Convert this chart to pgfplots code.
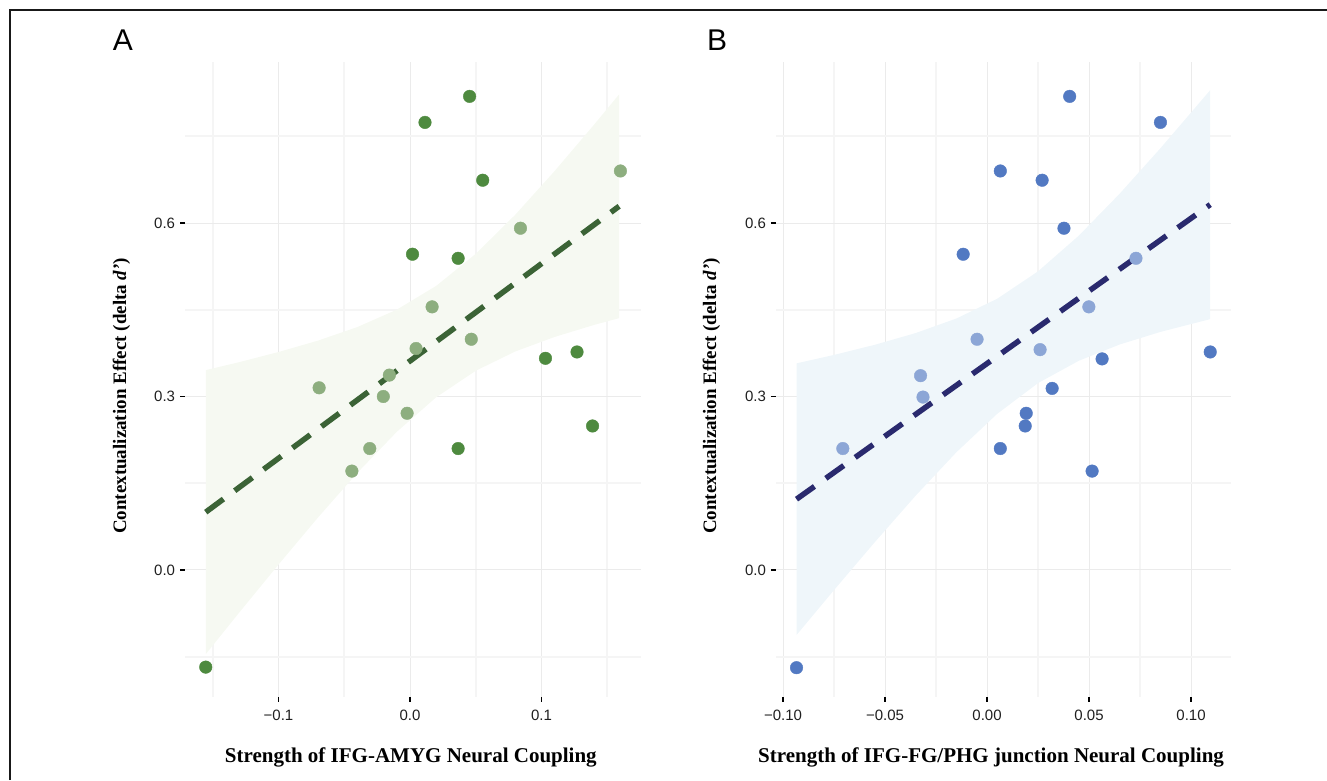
\documentclass[border=0pt]{standalone}
\usepackage{fontspec}
\setmainfont{Liberation Serif}
\setsansfont{Liberation Sans}
\usepackage{pgfplots}
\pgfplotsset{compat=1.18}

\definecolor{gdark}{HTML}{4E8A3F}
\definecolor{glight}{HTML}{8DAE7F}
\definecolor{gline}{HTML}{3B6336}
\definecolor{gband}{HTML}{F6F9F2}
\definecolor{bdark}{HTML}{5279C2}
\definecolor{blight}{HTML}{8CA6D6}
\definecolor{bline}{HTML}{2A2A6E}
\definecolor{bband}{HTML}{EFF6FA}
\definecolor{gridmaj}{HTML}{EBEBEB}
\definecolor{gridmin}{HTML}{F5F5F5}

\pgfplotsset{
  panel/.style={
    scale only axis,
    anchor=south west,
    height=634.9bp,
    ymin=-0.219, ymax=0.879,
    axis x line*=bottom, axis y line*=left,
    axis line style={draw=none},
    tick align=outside,
    major tick length=5bp,
    minor tick length=0bp,
    tick style={black, line width=1.4bp},
    grid=both,
    major grid style={gridmaj, line width=1bp},
    minor grid style={gridmin, line width=1.6bp},
    ytick={0,0.3,0.6},
    yticklabels={0.0,0.3,0.6},
    minor ytick={-0.15,0.15,0.45,0.75},
    tick label style={font=\fontsize{15bp}{18bp}\selectfont\sffamily, text=black!88},
    xticklabel style={yshift=-4.5bp},
    yticklabel style={xshift=-1.5bp},
    ylabel={\textbf{Contextualization Effect (delta \textit{d'})}},
    label style={font=\fontsize{19bp}{22bp}\selectfont},
    xlabel style={font=\fontsize{21bp}{24bp}\selectfont\bfseries},
  },
  pts/.style={only marks, mark=*, mark size=6.3bp, color=#1},
  fit/.style={draw=#1, line width=5.5bp, dash pattern=on 22bp off 14bp, line cap=butt},
}

\begin{document}
\begin{tikzpicture}[x=1bp, y=1bp]
\useasboundingbox (0,0) rectangle (1327,780);
\draw[line width=2bp, color=black!90] (10,0) -- (10,770) -- (1327,770);
\node[font=\fontsize{30bp}{34bp}\selectfont\sffamily] at (123,740) {A};
\node[font=\fontsize{30bp}{34bp}\selectfont\sffamily] at (717,740) {B};

% Panel A: IFG-AMYG
\begin{axis}[
  panel,
  at={(185.1bp,83.4bp)},
  width=456.1bp,
  xmin=-0.171, xmax=0.1758,
  xtick={-0.1,0,0.1},
  xticklabels={−0.1,0.0,0.1},
  minor xtick={-0.15,-0.05,0.05,0.15},
  xlabel={Strength of IFG-AMYG Neural Coupling},
  xlabel style={at={(axis description cs:0.495,-0.0951)}, anchor=center},
  ylabel style={at={(axis description cs:-0.1394,0.4735)}, anchor=center},
]
% confidence band
\addplot[fill=gband, draw=none] coordinates {
  (-0.1553,0.3456) (-0.13,0.3593) (-0.10,0.3769) (-0.07,0.3966) (-0.04,0.4201)
  (-0.01,0.4502) (0.02,0.4914) (0.05,0.5467) (0.08,0.6142) (0.11,0.6900)
  (0.14,0.7702) (0.159,0.8225)
  (0.159,0.4355) (0.14,0.4238) (0.11,0.4030) (0.08,0.3778) (0.05,0.3445)
  (0.02,0.2988) (-0.01,0.2390) (-0.04,0.1681) (-0.07,0.0906) (-0.10,0.0093)
  (-0.13,-0.0741) (-0.1553,-0.1456)
};
% light points
\addplot[pts=glight] coordinates {
  (-0.0691,0.315) (-0.0442,0.171) (-0.0306,0.210) (-0.0203,0.300)
  (-0.0157,0.337) (-0.0022,0.271) (0.0046,0.383) (0.0168,0.455)
  (0.0466,0.399) (0.084,0.591) (0.160,0.690)
};
% dark points
\addplot[pts=gdark] coordinates {
  (-0.1553,-0.168) (0.0114,0.774) (0.0453,0.819) (0.0553,0.674)
  (0.0019,0.546) (0.0366,0.539) (0.0366,0.210) (0.103,0.366)
  (0.127,0.377) (0.1388,0.249)
};
% fit line
\addplot[fit=gline] coordinates {(-0.1553,0.1000) (0.159,0.6290)};
\end{axis}

% Panel B: IFG-FG/PHG junction
\begin{axis}[
  panel,
  at={(775.9bp,83.4bp)},
  width=454.9bp,
  xmin=-0.1035, xmax=0.1195,
  xtick={-0.1,-0.05,0,0.05,0.1},
  xticklabels={−0.10,−0.05,0.00,0.05,0.10},
  minor xtick={-0.075,-0.025,0.025,0.075},
  xlabel={Strength of IFG-FG/PHG junction Neural Coupling},
  xlabel style={at={(axis description cs:0.473,-0.0951)}, anchor=center},
  ylabel style={at={(axis description cs:-0.1416,0.4735)}, anchor=center},
]
\addplot[fill=bband, draw=none] coordinates {
  (-0.0934,0.3573) (-0.075,0.3719) (-0.055,0.3894) (-0.035,0.4097) (-0.015,0.4349)
  (0.005,0.4691) (0.025,0.5164) (0.045,0.5782) (0.065,0.6507) (0.085,0.7293)
  (0.1094,0.8298)
  (0.1094,0.4338) (0.085,0.4117) (0.065,0.3899) (0.045,0.3618) (0.025,0.3232)
  (0.005,0.2701) (-0.015,0.2037) (-0.035,0.1285) (-0.055,0.0482) (-0.075,-0.0347)
  (-0.0934,-0.1125)
};
\addplot[pts=blight] coordinates {
  (-0.0707,0.210) (-0.0326,0.336) (-0.0314,0.299) (-0.0049,0.399)
  (0.026,0.381) (0.0499,0.455) (0.073,0.539)
};
\addplot[pts=bdark] coordinates {
  (-0.0934,-0.169) (0.0405,0.819) (0.085,0.774) (0.0065,0.690)
  (0.027,0.674) (0.0377,0.591) (-0.0117,0.546) (0.0564,0.365)
  (0.1094,0.377) (0.0319,0.314) (0.0192,0.271) (0.0187,0.249)
  (0.0065,0.210) (0.0515,0.171)
};
\addplot[fit=bline] coordinates {(-0.0934,0.1224) (0.1094,0.6318)};
\end{axis}
\end{tikzpicture}
\end{document}
